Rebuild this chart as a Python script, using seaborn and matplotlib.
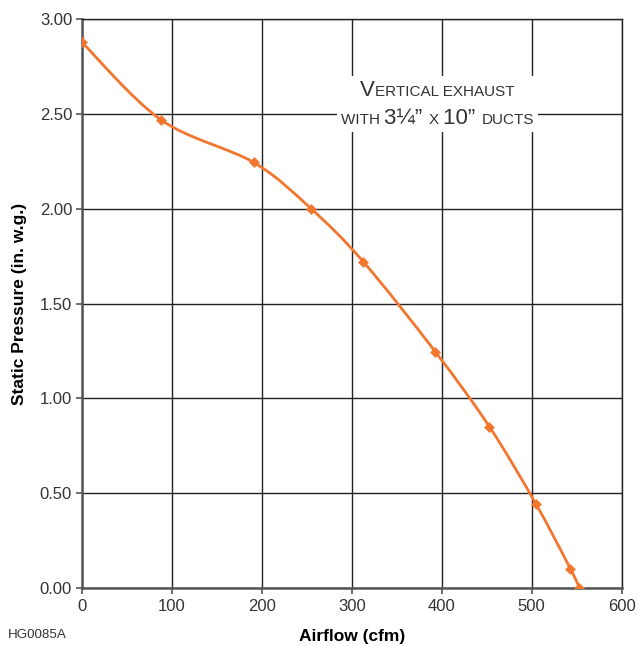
import numpy as np
import pandas as pd
import matplotlib
matplotlib.use("Agg")
import matplotlib.pyplot as plt
import seaborn as sns
from matplotlib.path import Path
from matplotlib.patches import PathPatch
from matplotlib.offsetbox import TextArea, HPacker, VPacker, AnnotationBbox

# fan curve
airflow = [0, 88, 191, 255, 313, 393, 453, 505, 543, 553]
pressure = [2.88, 2.47, 2.245, 2.00, 1.72, 1.245, 0.85, 0.44, 0.10, 0.00]
x_ticks = [0, 100, 200, 300, 400, 500, 600]
y_ticks = [0.0, 0.5, 1.0, 1.5, 2.0, 2.5, 3.0]

ORANGE = "#F2762E"
GREY = "#333333"

sns.set_theme(style="white")
plt.rcParams["font.family"] = ["Liberation Sans", "DejaVu Sans"]

df = pd.DataFrame({"airflow": airflow, "pressure": pressure})

fig = plt.figure(figsize=(6.39, 6.46), dpi=100)
ax = fig.add_axes([0.128, 0.090, 0.845, 0.880])

# smooth curve through the points (catmull-rom as bezier)
pts = df[["airflow", "pressure"]].to_numpy(dtype=float)
ext = np.vstack([pts[0], pts, pts[-1]])
verts = [tuple(pts[0])]
codes = [Path.MOVETO]
for i in range(1, len(ext) - 2):
    p0, p1, p2, p3 = ext[i - 1], ext[i], ext[i + 1], ext[i + 2]
    c1 = p1 + (p2 - p0) / 6
    c2 = p2 - (p3 - p1) / 6
    verts += [tuple(c1), tuple(c2), tuple(p2)]
    codes += [Path.CURVE4] * 3
ax.add_patch(PathPatch(Path(verts, codes), facecolor="none", edgecolor=ORANGE,
                       lw=2, zorder=4, capstyle="round"))
sns.scatterplot(data=df, x="airflow", y="pressure", ax=ax, marker="D", s=26,
                color=ORANGE, edgecolor=ORANGE, zorder=5, legend=False)

ax.set_xlim(0, 600)
ax.set_ylim(0, 3.0)
ax.set_xticks(x_ticks)
ax.set_xticklabels([str(t) for t in x_ticks])
ax.set_yticks(y_ticks)
ax.set_yticklabels([f"{t:.2f}" for t in y_ticks])
ax.grid(True, color="#222222", lw=1.0, zorder=1)
ax.set_axisbelow(True)
ax.tick_params(axis="both", direction="out", length=4, width=1.2, color="#555555",
               labelsize=12, labelcolor=GREY, bottom=True, left=True)
ax.tick_params(axis="x", pad=4)
ax.tick_params(axis="y", pad=3)
for side in ["left", "bottom"]:
    ax.spines[side].set_color("#555555")
    ax.spines[side].set_linewidth(1.8)
for side in ["top", "right"]:
    ax.spines[side].set_color("#222222")
    ax.spines[side].set_linewidth(1.0)

ax.set_xlabel("Airflow (cfm)", fontsize=12.5, fontweight="bold", color="black", labelpad=11)
ax.set_ylabel("Static Pressure (in. w.g.)", fontsize=12.5, fontweight="bold", color="black", labelpad=9)
fig.text(0.013, 0.012, "HG0085A", fontsize=9.6, color=GREY)

# small-caps style annotation
big = dict(fontsize=16, color=GREY)
small = dict(fontsize=11, color=GREY)
line1 = HPacker(children=[TextArea("V", textprops=big),
                          TextArea("ERTICAL EXHAUST", textprops=small)],
                align="baseline", pad=0, sep=0)
line2 = HPacker(children=[TextArea("WITH ", textprops=small),
                          TextArea("3¼” ", textprops=big),
                          TextArea("X ", textprops=small),
                          TextArea("10” ", textprops=big),
                          TextArea("DUCTS", textprops=small)],
                align="baseline", pad=0, sep=0)
block = VPacker(children=[line1, line2], align="center", pad=0, sep=5)
ab = AnnotationBbox(block, (0.659, 0.851), xycoords="axes fraction", frameon=True,
                    pad=0.25, bboxprops=dict(facecolor="white", edgecolor="none"),
                    zorder=3)
ax.add_artist(ab)

fig.savefig("out.png", dpi=100)
